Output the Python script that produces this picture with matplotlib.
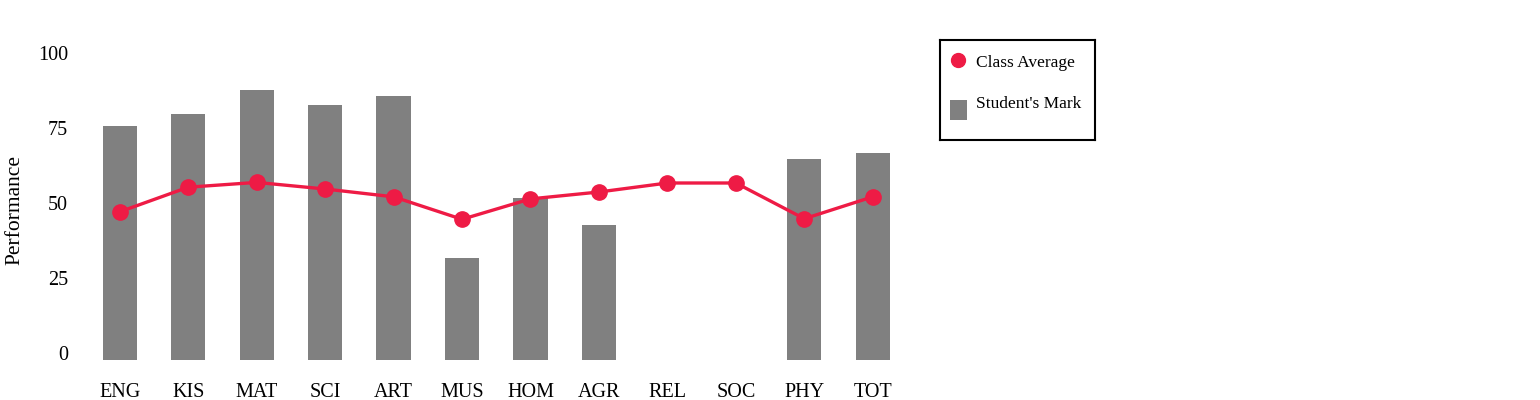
import matplotlib
matplotlib.use("Agg")
import matplotlib.pyplot as plt
import numpy as np
from matplotlib.patches import Rectangle

subjects = ["ENG", "KIS", "MAT", "SCI", "ART", "MUS", "HOM", "AGR", "REL", "SOC", "PHY", "TOT"]
student_mark = [78, 82, 90, 85, 88, 34, 54, 45, np.nan, np.nan, 67, 69]
class_average = [49.4, 57.6, 59.2, 57, 54.4, 46.9, 53.7, 56, 59, 59, 47.1, 54.4]
y_ticks = [0, 25, 50, 75, 100]
legend_labels = ["Class Average", "Student's Mark"]

RED = "#EE1B45"
GREY = "#808080"

plt.rcParams["font.family"] = ["Liberation Serif", "DejaVu Serif"]

fig = plt.figure(figsize=(15.4, 4.0), dpi=100)
ax = fig.add_axes([85.5 / 1540, 0.1, (907 - 85.5) / 1540, 0.75])

x = np.arange(len(subjects))
ax.bar(x, student_mark, width=0.5, color=GREY, zorder=1)
ax.plot(x, class_average, color=RED, linewidth=2.4, marker="o", markersize=11, zorder=2)

ax.set_xlim(-0.5, len(subjects) - 0.5)
ax.set_ylim(0, 100)
ax.set_xticks(x)
ax.set_xticklabels(subjects, fontsize=14.5)
ax.set_yticks(y_ticks)
ax.set_yticklabels([str(t) for t in y_ticks], fontsize=14.5, va="baseline")
ax.tick_params(axis="both", length=0)
ax.tick_params(axis="x", pad=16.5)
ax.tick_params(axis="y", pad=12.5)
for s in ax.spines.values():
    s.set_visible(False)
ax.set_ylabel("Performance", fontsize=15.5, labelpad=10)

# legend box, laid out in its own pixel space (154 x 100 px)
lax = fig.add_axes([940 / 1540, 1 - 140 / 400, 155 / 1540, 100 / 400])
lax.set_xlim(0, 155)
lax.set_ylim(100, 0)
lax.set_xticks([])
lax.set_yticks([])
for s in lax.spines.values():
    s.set_color("black")
    s.set_linewidth(1.5)
lax.plot([18], [20], marker="o", markersize=10, color=RED, linestyle="none")
lax.add_patch(Rectangle((10, 60), 17, 20, facecolor=GREY, edgecolor="none"))
lax.text(36, 23, legend_labels[0], fontsize=12.5, va="center", ha="left")
lax.text(36, 64, legend_labels[1], fontsize=12.5, va="center", ha="left")

fig.savefig("out.png", dpi=100)
